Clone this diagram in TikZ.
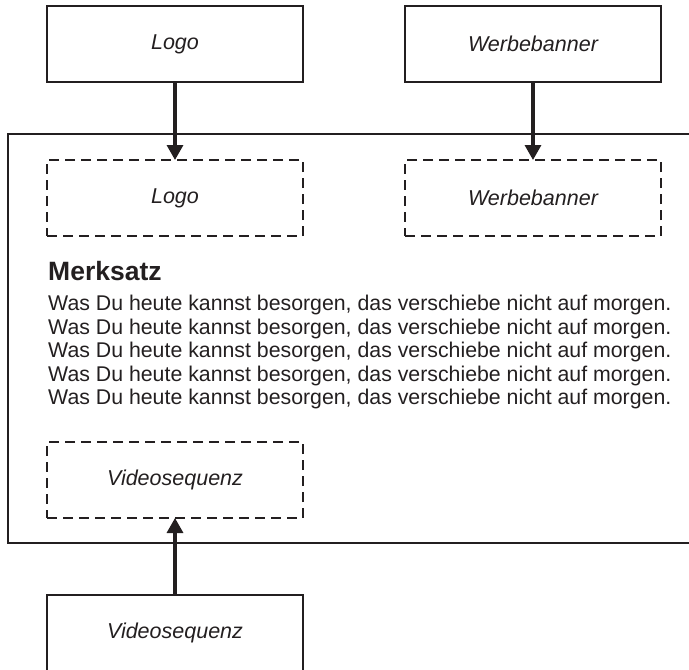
\documentclass[tikz,border=0pt]{standalone}
\usepackage{fontspec}
\setmainfont{Liberation Sans}
\usetikzlibrary{arrows.meta}
\definecolor{ink}{RGB}{35,31,32}
\tikzset{
  srcbox/.style={draw=ink, line width=1.6pt, minimum width=256pt, minimum height=76pt,
    inner sep=0pt, outer sep=0pt, font=\fontsize{21.5}{25}\selectfont\itshape, text=ink},
  slotbox/.style={srcbox, line width=2.9pt, dash pattern=on 10pt off 6pt},
  feed/.style={draw=ink, line width=3.2pt, -{Triangle[width=16pt,length=15pt]}},
  lineofs/.style={anchor=base west, inner sep=0pt, font=\fontsize{21.3}{25}\selectfont, text=ink}
}
\begin{document}
\begin{tikzpicture}[x=1pt,y=-1pt]
                  \useasboundingbox (0,0) rectangle (689,670);
                  \draw[ink, line width=1.8pt] (8,134) rectangle (700,543);
                  \node[srcbox] (logo) at (175,44) {Logo};
                  \node[srcbox] (banner) at (533,44) {Werbebanner};
                  \node[slotbox] (slotlogo) at (175,198) {Logo};
                  \node[slotbox] (slotbanner) at (533,198) {Werbebanner};
                  \node[slotbox] (slotvideo) at (175,480) {Videosequenz};
                  \node[srcbox] (video) at (175,633) {Videosequenz};
                  \node[lineofs, font=\fontsize{26.5}{31}\selectfont\bfseries] (merk) at (48,280) {Merksatz};
                  \foreach \i/\y in {1/310.5,2/334,3/357.5,4/381,5/404.5}
                    \node[lineofs] (line\i) at (48,\y) {Was Du heute kannst besorgen, das verschiebe nicht auf morgen.};
                  \draw[feed] (logo) -- (slotlogo);
                  \draw[feed] (banner) -- (slotbanner);
                  \draw[feed] (video) -- (slotvideo);
              \end{tikzpicture}
\end{document}
